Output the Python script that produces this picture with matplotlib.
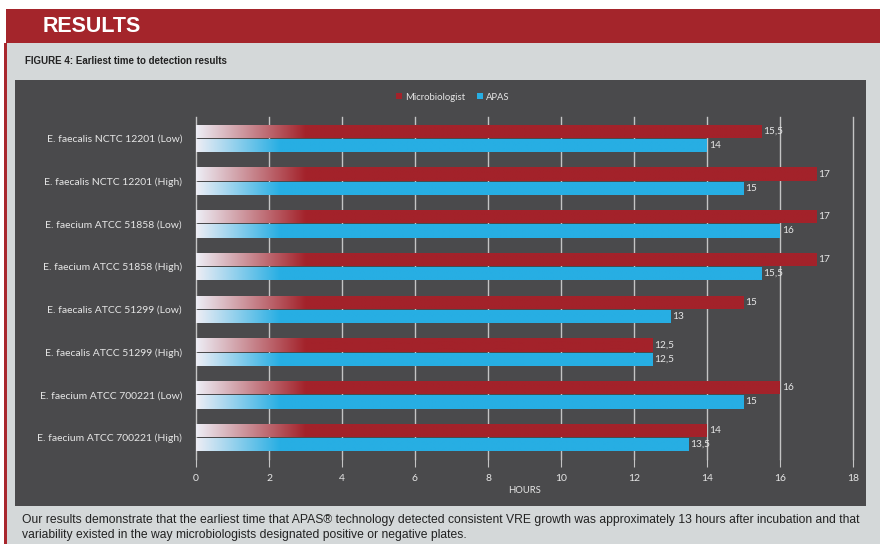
import numpy as np
import matplotlib
matplotlib.use("Agg")
import matplotlib.pyplot as plt
from matplotlib import patches
from matplotlib.colors import to_rgb

# data
categories = [
    "E. faecalis NCTC 12201 (Low)",
    "E. faecalis NCTC 12201 (High)",
    "E. faecium ATCC 51858 (Low)",
    "E. faecium ATCC 51858 (High)",
    "E. faecalis ATCC 51299 (Low)",
    "E. faecalis ATCC 51299 (High)",
    "E. faecium ATCC 700221 (Low)",
    "E. faecium ATCC 700221 (High)",
]
microbiologist = [15.5, 17, 17, 17, 15, 12.5, 16, 14]
apas = [14, 15, 16, 15.5, 13, 12.5, 15, 13.5]
xticks = [0, 2, 4, 6, 8, 10, 12, 14, 16, 18]

RED = "#a3222a"
BLUE = "#27aee3"
DARK = "#4a4a4c"
PANEL = "#d4d8d9"
TXT = "#e6e6e6"

W, H = 880, 544
fig = plt.figure(figsize=(8.8, 5.44), dpi=100)
fig.patch.set_facecolor("white")


def box(x0, y0, x1, y1, color):
    # pixel coords, origin top-left
    fig.patches.append(patches.Rectangle((x0 / W, 1 - y1 / H), (x1 - x0) / W, (y1 - y0) / H,
                                         transform=fig.transFigure, facecolor=color,
                                         edgecolor="none", zorder=-5))


box(6, 43, 880, 544, PANEL)
box(4, 43, 7, 544, "#a8262d")
box(6, 9, 880, 43, "#a4252b")
box(15, 80, 866, 506, DARK)

fig.text(43 / W, 1 - 26 / H, "RESULTS", color="white", fontsize=15.5, fontweight="bold",
         family="Liberation Sans", va="center", ha="left")
fig.text(25 / W, 1 - 61 / H, "FIGURE 4: Earliest time to detection results", color="#222222",
         fontsize=7, fontweight="bold", family="Liberation Sans", va="center", ha="left")
fig.text(22 / W, 1 - 520 / H,
         "Our results demonstrate that the earliest time that APAS\u00ae technology detected consistent VRE growth "
         "was approximately 13 hours after incubation and that",
         color="#222222", fontsize=8.7, family="Liberation Sans", va="center", ha="left")
fig.text(22 / W, 1 - 535 / H,
         "variability existed in the way microbiologists designated positive or negative plates.",
         color="#222222", fontsize=8.7, family="Liberation Sans", va="center", ha="left")

ax = fig.add_axes([196 / W, 1 - 459 / H, (853 - 196) / W, (459 - 117) / H])
ax.set_facecolor("none")
y = np.arange(len(categories))

off, hgt = 0.165, 0.31
bars_r = ax.barh(y - off, microbiologist, height=hgt, color=RED, zorder=3, label="Microbiologist")
bars_b = ax.barh(y + off, apas, height=hgt, color=BLUE, zorder=3, label="APAS")


def fade(bars, color, span):
    c = np.array(to_rgb(color))
    start = np.array([0.93, 0.93, 0.96])
    for b in bars:
        x0, w = b.get_x(), b.get_width()
        xs = np.linspace(x0, x0 + w, 400)
        t = np.clip(xs / span, 0, 1)[:, None]
        row = start * (1 - t) + c * t
        img = np.repeat(row[None, :, :], 2, axis=0)
        im = ax.imshow(img, extent=(x0, x0 + w, b.get_y() + b.get_height(), b.get_y()),
                       aspect="auto", zorder=4, interpolation="bilinear")
        im.set_clip_path(b)


fade(bars_r, RED, 3.0)
fade(bars_b, BLUE, 2.3)
ax.set_xlim(0, 18)
ax.set_ylim(len(categories) - 0.5, -0.5)

for vals, pos in ((microbiologist, y - off), (apas, y + off)):
    for v, p in zip(vals, pos):
        ax.text(v + 0.05, p, f"{v:g}".replace(".", ","), color=TXT, fontsize=7.3,
                family="Lato", va="center", ha="left", zorder=5)

ax.set_xticks(xticks)
ax.set_xticklabels([str(t) for t in xticks], color=TXT, fontsize=7.5, family="Lato")
ax.set_yticks(y)
ax.set_yticklabels(categories, color=TXT, fontsize=7.5, family="Lato")
ax.tick_params(axis="y", length=0, pad=10)
ax.tick_params(axis="x", length=6, color="#c4c4c4", pad=5)
ax.grid(axis="x", color="#c4c4c4", linewidth=1, zorder=1)
for gl in ax.get_xgridlines():
    gl.set_clip_on(False)
ax.set_axisbelow(True)
for s in ax.spines.values():
    s.set_visible(False)
ax.set_xlabel("HOURS", color=TXT, fontsize=6.8, family="Lato", labelpad=2)

h, l = ax.get_legend_handles_labels()
fig.legend(h, l, loc="center", bbox_to_anchor=(453 / W, 1 - 97 / H), ncol=2, frameon=False,
           labelcolor=TXT, handlelength=0.6, handleheight=0.6,
           handletextpad=0.4, columnspacing=1.2, prop={"family": "Lato", "size": 6.8})

fig.savefig("out.png", dpi=100)
